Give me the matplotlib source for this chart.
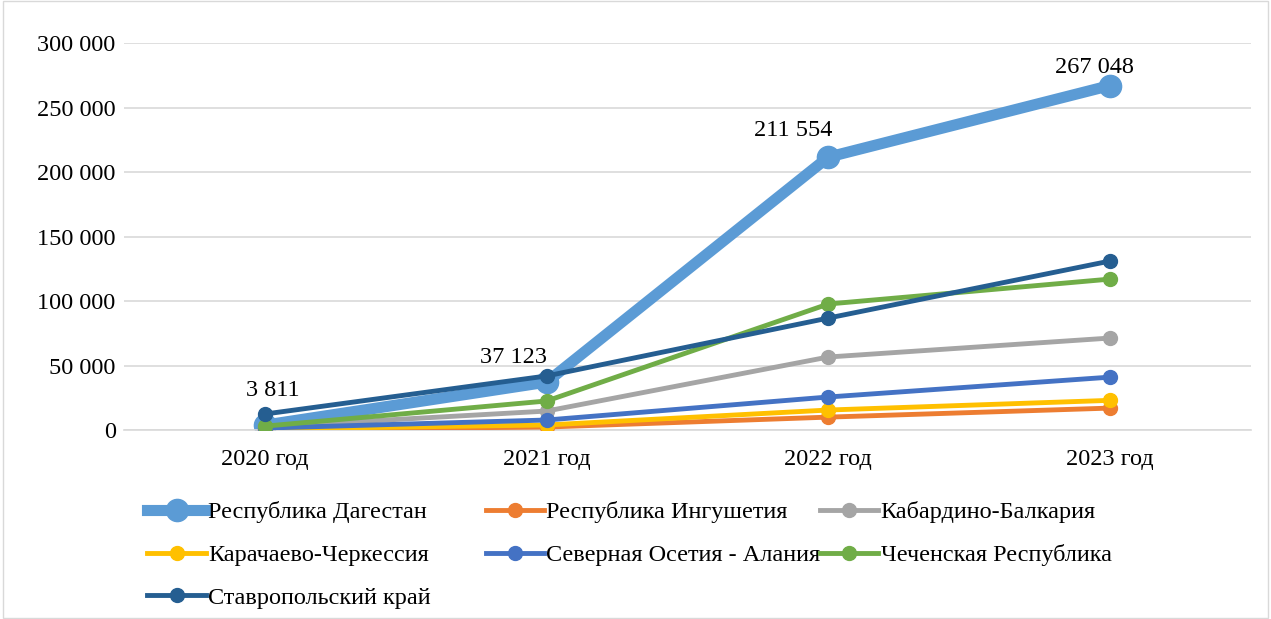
import matplotlib
matplotlib.use("Agg")
import matplotlib.pyplot as plt
from matplotlib.ticker import FuncFormatter

years = ["2020 год", "2021 год", "2022 год", "2023 год"]
dagestan = [3811, 37123, 211554, 267048]
ingushetia = [300, 2300, 10000, 17000]
kabardino = [2500, 14700, 56600, 71300]
karachay = [800, 3900, 15500, 23000]
ossetia = [1500, 7750, 25600, 41000]
chechnya = [3000, 22500, 97700, 117000]
stavropol = [12400, 41900, 86800, 131000]

names = ["Республика Дагестан", "Республика Ингушетия", "Кабардино-Балкария",
         "Карачаево-Черкессия", "Северная Осетия - Алания", "Чеченская Республика",
         "Ставропольский край"]
series = [dagestan, ingushetia, kabardino, karachay, ossetia, chechnya, stavropol]
colors = ["#5B9BD5", "#ED7D31", "#A5A5A5", "#FFC000", "#4472C4", "#70AD47", "#255E91"]

plt.rcParams['font.family'] = ['Liberation Serif', 'DejaVu Serif']
FS = 17.5

fig = plt.figure(figsize=(12.71, 6.19), dpi=100)
ax = fig.add_axes([0.0976, 0.3053, 0.8866, 0.6252])

x = list(range(len(years)))
handles = []
for i, (name, vals, c) in enumerate(zip(names, series, colors)):
    if i == 0:
        h, = ax.plot(x, vals, color=c, lw=8, marker='o', ms=16, label=name, zorder=2)
    else:
        h, = ax.plot(x, vals, color=c, lw=3.5, marker='o', ms=10, label=name, zorder=3)
    handles.append(h)

label_offsets = [(6, 25), (-24, 18), (-25, 19), (-11, 13)]
for xi, v, off in zip(x, dagestan, label_offsets):
    ax.annotate(f"{v:,}".replace(",", " "), (xi, v), xytext=off,
                textcoords='offset points', ha='center', va='center', fontsize=FS)

ax.set_xlim(-0.5, 3.5)
ax.set_ylim(0, 300000)
ax.set_yticks(range(0, 300001, 50000))
ax.yaxis.set_major_formatter(FuncFormatter(lambda v, p: f"{int(v):,}".replace(",", " ")))
ax.set_xticks(x)
ax.set_xticklabels(years)
ax.tick_params(axis='both', length=0, labelsize=FS)
ax.tick_params(axis='x', pad=14)
ax.tick_params(axis='y', pad=6)
ax.grid(axis='y', color='#D9D9D9', lw=1.2)
ax.set_axisbelow(True)
for s in ['top', 'right', 'left']:
    ax.spines[s].set_visible(False)
ax.spines['bottom'].set_color('#D9D9D9')
ax.spines['bottom'].set_linewidth(1.2)

cols = [[0, 3, 6], [1, 4], [2, 5]]
xpos = [0.116, 0.382, 0.645]
for idx, xp in zip(cols, xpos):
    leg = fig.legend([handles[k] for k in idx], [names[k] for k in idx],
                     loc='upper left', bbox_to_anchor=(xp, 0.19), frameon=False,
                     fontsize=FS, handlelength=2.4, handletextpad=0.1,
                     labelspacing=0.85, borderaxespad=0, borderpad=0)

fig.patches.append(plt.Rectangle((0.002, 0.002), 0.996, 0.996, transform=fig.transFigure,
                                 fill=False, edgecolor='#D9D9D9', lw=1))
fig.savefig("out.png", dpi=100)
